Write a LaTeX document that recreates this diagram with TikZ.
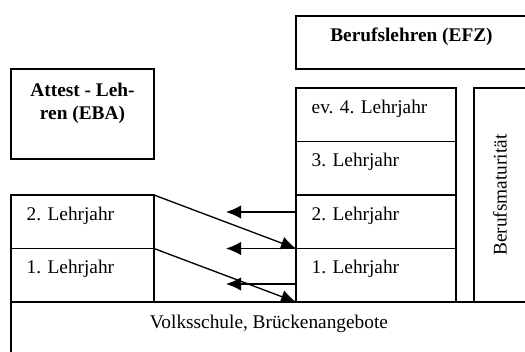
\documentclass[tikz,border=0pt]{standalone}
\usepackage{fontspec}
\setmainfont{Liberation Serif}
\usetikzlibrary{arrows.meta}
\tikzset{box/.style={draw,line width=0.8pt,anchor=north west,
                     inner sep=0pt,outer sep=0pt}}
\tikzset{yearbox/.style={box,minimum height=32.1pt}}
\tikzset{rowtext/.style={font=\fontsize{11.6}{13.8}\selectfont,
                         inner sep=0pt,anchor=base west}}
\tikzset{headtext/.style={rowtext,font=\fontsize{11.6}{13.8}\selectfont\bfseries,
                          anchor=base}}

\begin{document}
\begin{tikzpicture}[x=0.6pt,y=-0.6pt,line width=0.8pt,
                    >={Latex[length=9pt,width=8pt]}]
  % coordinates are given in pixels of the original picture
  \clip (0,0) rectangle (525,351);

  % Headers of both apprenticeship types
  \node (efz) [box,minimum width=138.6pt,minimum height=31.8pt] at (296,16) {};
  \node (efz_t) [headtext] at ([shift={(115.5,25)}]efz.north west) {Berufslehren (EFZ)};
  \node (eba) [box,minimum width=85.8pt,minimum height=54pt] at (11,69) {};
  \node (eba_t) [headtext,anchor=north,align=center]
        at ([shift={(71.5,13)}]eba.north west) {Attest - Leh-\\ren (EBA)};

  % Years of the EFZ apprenticeship
  \node (efz4) [yearbox,minimum width=96pt] at (296,88)    {};
  \node (efz3) [yearbox,minimum width=96pt] at (296,141.5) {};
  \node (efz2) [yearbox,minimum width=96pt] at (296,195)   {};
  \node (efz1) [yearbox,minimum width=96pt] at (296,248.5) {};
  \node [rowtext] at ([shift={(15,25)}]efz4.north west) {ev. 4. Lehrjahr};
  \node [rowtext] at ([shift={(15,25)}]efz3.north west) {3. Lehrjahr};
  \node [rowtext] at ([shift={(15,25)}]efz2.north west) {2. Lehrjahr};
  \node [rowtext] at ([shift={(15,25)}]efz1.north west) {1. Lehrjahr};

  % Years of the EBA apprenticeship
  \node (eba2) [yearbox,minimum width=85.8pt] at (11,195)   {};
  \node (eba1) [yearbox,minimum width=85.8pt] at (11,248.5) {};
  \node [rowtext] at ([shift={(15,25)}]eba2.north west) {2. Lehrjahr};
  \node [rowtext] at ([shift={(15,25)}]eba1.north west) {1. Lehrjahr};

  % Vocational baccalaureate and basis
  \node (bms) [box,minimum width=48pt,minimum height=128.4pt] at (474,88) {};
  \node (bms_t) [rowtext,anchor=center,rotate=90] at (500,195) {Berufsmaturität};
  \node (vs) [box,minimum width=317.4pt,minimum height=42pt] at (11,302) {};
  \node (vs_t) [rowtext,anchor=base] at ([shift={(258,26)}]vs.north west)
        {Volksschule, Brückenangebote};

  % Transitions between the two paths
  \coordinate (to2) at (226,212);
  \coordinate (to1) at (226,248.5);
  \coordinate (to0) at (226,284);
  \draw[->] (eba2.north east) -- (efz1.north west);
  \draw[->] (eba1.north east) -- (efz1.south west);
  \draw[->] (efz2.west |- to2) -- (to2);
  \draw[->] (efz1.north west) -- (to1);
  \draw[->] (efz1.west |- to0) -- (to0);
\end{tikzpicture}
\end{document}
